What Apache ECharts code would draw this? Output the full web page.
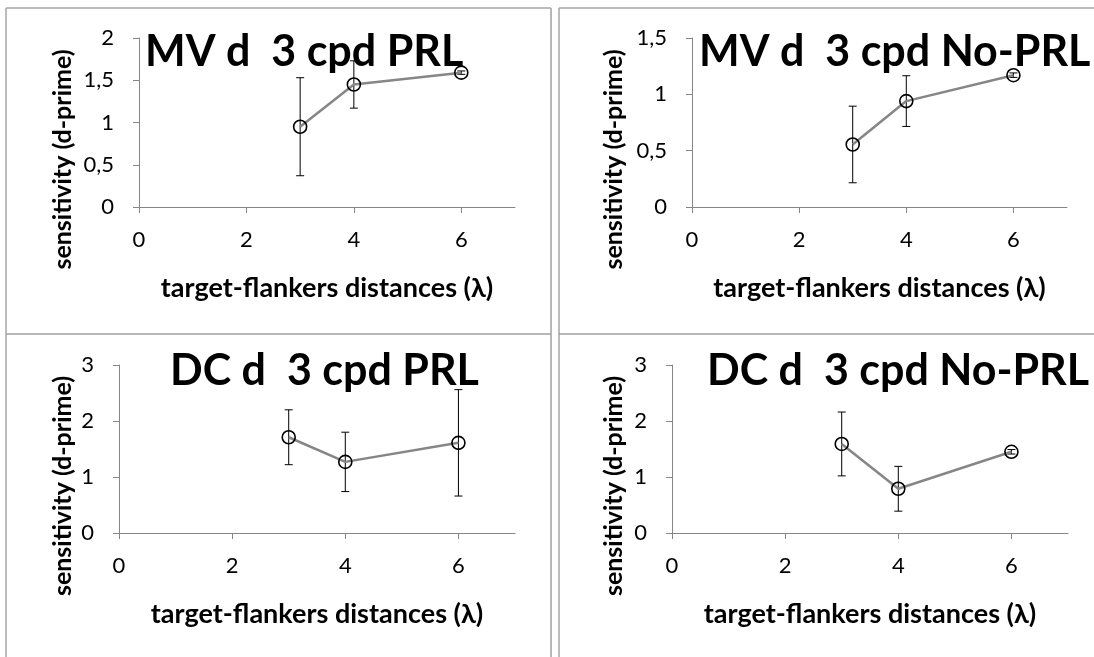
<!DOCTYPE html>
<html>
<head>
<meta charset="utf-8">
<script src="https://cdn.jsdelivr.net/npm/echarts@6/dist/echarts.min.js"></script>
<style>html,body{margin:0;padding:0;background:#fff;}#c{width:1094px;height:657px;}</style>
</head>
<body>
<div id="c"></div>
<script>
// ---- data ----
const xTicks = [0, 2, 4, 6];
const distances = [3, 4, 6];

const titleMVPRL = 'MV d  3 cpd PRL';
const titleMVNoPRL = 'MV d  3 cpd No-PRL';
const titleDCPRL = 'DC d  3 cpd PRL';
const titleDCNoPRL = 'DC d  3 cpd No-PRL';

const mvPRL = [0.95, 1.45, 1.59];
const mvPRLErr = [0.58, 0.28, 0.02];
const mvNoPRL = [0.555, 0.94, 1.17];
const mvNoPRLErr = [0.34, 0.225, 0.02];
const dcPRL = [1.71, 1.27, 1.61];
const dcPRLErr = [0.49, 0.53, 0.95];
const dcNoPRL = [1.59, 0.79, 1.45];
const dcNoPRLErr = [0.57, 0.40, 0.04];

const yTicksMVPRL = [0, 0.5, 1, 1.5, 2];
const yTicksMVNoPRL = [0, 0.5, 1, 1.5];
const yTicksDC = [0, 1, 2, 3];

const xName = 'target-flankers distances (λ)';
const yName = 'sensitivity (d-prime)';

// ---- chart ----
const FONT = 'Lato, "Open Sans", sans-serif';
const AX = '#868686';

const panels = [
  {title: titleMVPRL, vals: mvPRL, errs: mvPRLErr, yt: yTicksMVPRL, grid: {left: 139, top: 38, width: 376, height: 169}, tl: 145, tt: 31, ynGap: 64},
  {title: titleMVNoPRL, vals: mvNoPRL, errs: mvNoPRLErr, yt: yTicksMVNoPRL, grid: {left: 692, top: 38, width: 375, height: 169}, tl: 699, tt: 31, ynGap: 66},
  {title: titleDCPRL, vals: dcPRL, errs: dcPRLErr, yt: yTicksDC, grid: {left: 119, top: 365, width: 396, height: 168}, tl: 170, tt: 350, ynGap: 44},
  {title: titleDCNoPRL, vals: dcNoPRL, errs: dcNoPRLErr, yt: yTicksDC, grid: {left: 672, top: 365, width: 396, height: 168}, tl: 707, tt: 350, ynGap: 46}
];

const option = {
  animation: false,
  backgroundColor: '#fff',
  title: panels.map(p => ({
    text: p.title, left: p.tl, top: p.tt, padding: 0,
    textStyle: {fontFamily: FONT, fontWeight: 'bold', fontSize: 43, color: '#000'}
  })),
  grid: panels.map(p => Object.assign({containLabel: false}, p.grid)),
  xAxis: panels.map((p, i) => ({
    type: 'value', gridIndex: i, min: 0, max: 7, interval: 1,
    name: xName, nameLocation: 'middle', nameGap: 68,
    nameTextStyle: {fontFamily: FONT, fontWeight: 'bold', fontSize: 27, color: '#000'},
    axisLine: {lineStyle: {color: AX, width: 1}},
    axisTick: {show: true, inside: false, length: 6, customValues: xTicks, lineStyle: {color: AX}},
    axisLabel: {customValues: xTicks, fontFamily: FONT, fontSize: 22, color: '#000', margin: 22},
    splitLine: {show: false}
  })),
  yAxis: panels.map((p, i) => ({
    type: 'value', gridIndex: i, min: 0, max: p.yt[p.yt.length - 1], interval: p.yt[1] - p.yt[0],
    name: yName, nameLocation: 'middle', nameGap: p.ynGap, nameRotate: 90,
    nameTextStyle: {fontFamily: FONT, fontWeight: 'bold', fontSize: 25, color: '#000', padding: [0, 74, 0, 0]},
    axisLine: {show: true, lineStyle: {color: AX, width: 1}},
    axisTick: {show: true, inside: false, length: 6, lineStyle: {color: AX}},
    axisLabel: {fontFamily: FONT, fontSize: 22, color: '#000', margin: 25,
      formatter: v => String(v).replace('.', ',')},
    splitLine: {show: false}
  })),
  series: [],
  graphic: [
    {type: 'line', shape: {x1: 6, y1: 8, x2: 6, y2: 657}, style: {stroke: '#a6a6a6', lineWidth: 1.5}},
    {type: 'line', shape: {x1: 6, y1: 8, x2: 551, y2: 8}, style: {stroke: '#a6a6a6', lineWidth: 1.5}},
    {type: 'line', shape: {x1: 551, y1: 8, x2: 551, y2: 657}, style: {stroke: '#a0a0a0', lineWidth: 1.5}},
    {type: 'line', shape: {x1: 6, y1: 334, x2: 551, y2: 334}, style: {stroke: '#a0a0a0', lineWidth: 1.5}},
    {type: 'line', shape: {x1: 559, y1: 8, x2: 559, y2: 657}, style: {stroke: '#a6a6a6', lineWidth: 1.5}},
    {type: 'line', shape: {x1: 559, y1: 8, x2: 1094, y2: 8}, style: {stroke: '#a6a6a6', lineWidth: 1.5}},
    {type: 'line', shape: {x1: 559, y1: 334, x2: 1094, y2: 334}, style: {stroke: '#a0a0a0', lineWidth: 1.5}}
  ]
};

panels.forEach((p, i) => {
  option.series.push({
    type: 'custom', xAxisIndex: i, yAxisIndex: i, z: 3,
    data: distances.map((d, k) => [d, p.vals[k], p.errs[k]]),
    renderItem: (params, api) => {
      const x = api.value(0), y = api.value(1), e = api.value(2);
      const top = api.coord([x, y + e]);
      const bot = api.coord([x, y - e]);
      const s = {stroke: '#000', lineWidth: 1};
      return {type: 'group', children: [
        {type: 'line', shape: {x1: top[0], y1: top[1], x2: bot[0], y2: bot[1]}, style: s},
        {type: 'line', shape: {x1: top[0] - 4, y1: top[1], x2: top[0] + 4, y2: top[1]}, style: s},
        {type: 'line', shape: {x1: bot[0] - 4, y1: bot[1], x2: bot[0] + 4, y2: bot[1]}, style: s}
      ]};
    }
  });
  option.series.push({
    type: 'line', xAxisIndex: i, yAxisIndex: i, z: 4,
    data: distances.map((d, k) => [d, p.vals[k]]),
    lineStyle: {color: '#868686', width: 2.5},
    symbol: 'circle', symbolSize: 13, showSymbol: true,
    itemStyle: {color: 'rgba(0,0,0,0)', borderColor: '#000', borderWidth: 1.6}
  });
});

const chart = echarts.init(document.getElementById('c'), null, {renderer: 'canvas'});
chart.setOption(option);
</script>
</body>
</html>
